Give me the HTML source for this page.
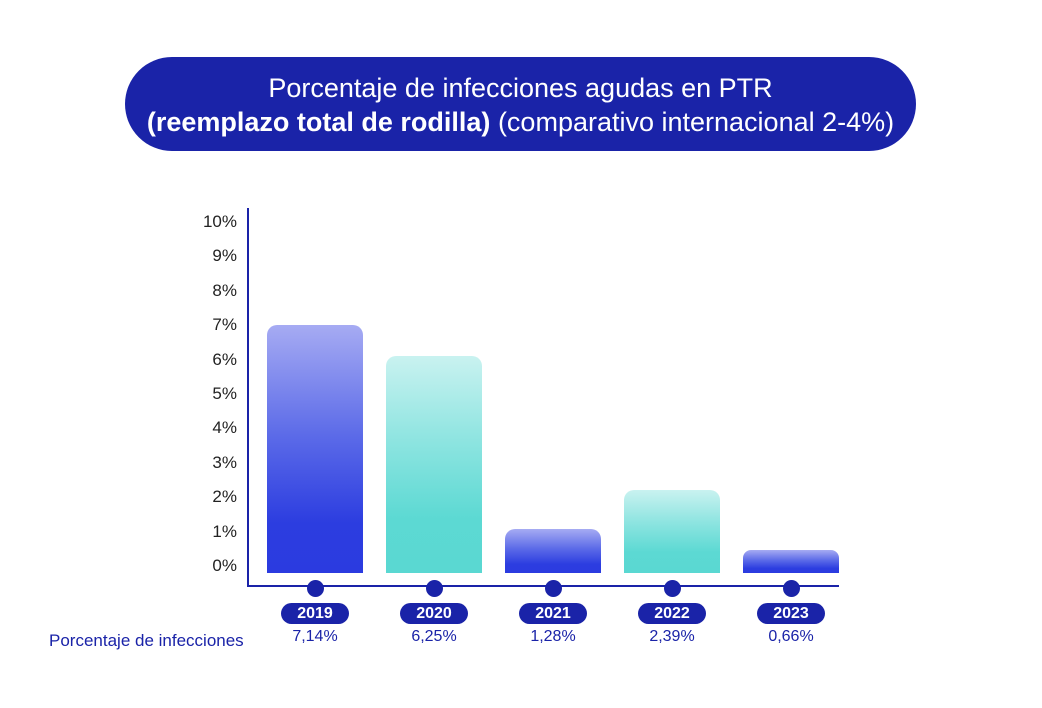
<!DOCTYPE html>
<html><head><style>
body{margin:0;width:1042px;height:708px;background:#fff;position:relative;font-family:"Liberation Sans",sans-serif;overflow:hidden}
.ban{position:absolute;left:125px;top:57px;width:791px;height:94px;border-radius:47px;background:#1a23a8;color:#fff;text-align:center;font-size:27px;line-height:34px;box-sizing:border-box;padding-top:14px;white-space:nowrap}
.t{position:absolute;width:60px;text-align:right;left:177px;font-size:17px;color:#222}
.bar{position:absolute;width:96px;border-radius:10px 10px 0 0;bottom:135px}
.b{background:linear-gradient(#a6abf3,#5b6ae8 45%,#2c3de0 80%,#2b3be0)}
.g{background:linear-gradient(#c9f2f0,#8ce4e0 40%,#5cd9d3 75%,#5ad8d2)}
.dot{position:absolute;top:580px;width:17px;height:17px;border-radius:50%;background:#1a23a8}
.pill{position:absolute;top:603px;width:68px;height:21px;border-radius:11px;background:#1a23a8;color:#fff;font-weight:bold;font-size:16px;text-align:center;line-height:21px}
.v{position:absolute;top:628px;width:96px;text-align:center;font-size:16px;color:#1a23a8}
</style></head><body>
<div class="ban">Porcentaje de infecciones agudas en PTR<br><span style="font-weight:bold">(reemplazo total de rodilla)</span> (comparativo internacional 2-4%)</div>
<div style="position:absolute;left:247px;top:208px;width:2px;height:379px;background:#1a23a8"></div>
<div style="position:absolute;left:247px;top:585px;width:592px;height:2px;background:#1a23a8"></div>
<div class="t" style="top:212px">10%</div><div class="t" style="top:246px">9%</div><div class="t" style="top:281px">8%</div><div class="t" style="top:315px">7%</div><div class="t" style="top:350px">6%</div><div class="t" style="top:384px">5%</div><div class="t" style="top:418px">4%</div><div class="t" style="top:453px">3%</div><div class="t" style="top:487px">2%</div><div class="t" style="top:522px">1%</div><div class="t" style="top:556px">0%</div>
<div class="bar b" style="left:267px;height:248px"></div>
<div class="bar g" style="left:386px;height:217px"></div>
<div class="bar b" style="left:505px;height:44px"></div>
<div class="bar g" style="left:624px;height:83px"></div>
<div class="bar b" style="left:743px;height:23px;border-radius:8px 8px 0 0"></div>
<div class="dot" style="left:307px"></div><div class="dot" style="left:426px"></div><div class="dot" style="left:545px"></div><div class="dot" style="left:664px"></div><div class="dot" style="left:783px"></div>
<div class="pill" style="left:281px">2019</div><div class="pill" style="left:400px">2020</div><div class="pill" style="left:519px">2021</div><div class="pill" style="left:638px">2022</div><div class="pill" style="left:757px">2023</div>
<div class="v" style="left:267px">7,14%</div><div class="v" style="left:386px">6,25%</div><div class="v" style="left:505px">1,28%</div><div class="v" style="left:624px">2,39%</div><div class="v" style="left:743px">0,66%</div>
<div style="position:absolute;left:49px;top:631px;font-size:17px;color:#1a23a8">Porcentaje de infecciones</div>
</body></html>
